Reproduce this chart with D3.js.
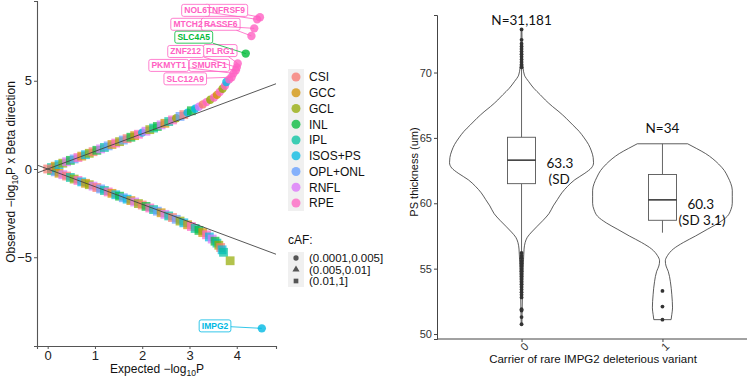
<!DOCTYPE html>
<html>
<head>
<meta charset="utf-8">
<script src="https://cdn.jsdelivr.net/npm/d3@7"></script>
<style>
  body { margin: 0; background: #fff; }
  svg { display: block; font-family: "Liberation Sans", Arial, sans-serif; }
</style>
</head>
<body>
<svg id="chart" width="750" height="378"></svg>
<script>
// ---- QQ panel data ----
const tissues = ["CSI", "GCC", "GCL", "INL", "IPL", "ISOS+PS", "OPL+ONL", "RNFL", "RPE"];
const tissueColors = ["#F8766D", "#D39200", "#93AA00", "#00BA38", "#00C19F", "#00B9E3", "#619CFF", "#DB72FB", "#FF61C3"];
const cafLevels = ["(0.0001,0.005]", "(0.005,0.01]", "(0.01,1]"];

// positive beta direction (tissue / shape given as index codes)
const upExpected = [0.00, 0.08, 0.16, 0.24, 0.32, 0.40, 0.48, 0.56, 0.64, 0.72,
  0.80, 0.88, 0.96, 1.04, 1.12, 1.20, 1.28, 1.36, 1.44, 1.52,
  1.60, 1.68, 1.76, 1.84, 1.92, 2.00, 2.08, 2.16, 2.24, 2.32,
  2.40, 2.48, 2.56, 2.64, 2.72, 2.80, 2.88, 2.96, 3.04, 3.12,
  3.20, 3.28, 3.36, 3.44, 3.52, 3.58, 3.64, 3.70, 3.75, 3.78, 3.84];
const upObserved = [0.00, 0.08, 0.16, 0.25, 0.33, 0.41, 0.49, 0.57, 0.65, 0.73,
  0.81, 0.89, 0.98, 1.06, 1.14, 1.22, 1.31, 1.39, 1.47, 1.55,
  1.64, 1.72, 1.80, 1.89, 1.97, 2.06, 2.14, 2.23, 2.32, 2.41,
  2.50, 2.59, 2.69, 2.78, 2.88, 2.98, 3.08, 3.19, 3.30, 3.41,
  3.53, 3.66, 3.79, 3.92, 4.05, 4.20, 4.36, 4.55, 4.72, 4.93, 5.08];
const upTissue = "0415273681" + "5203746182" + "6031857243" + "7148260535" + "7082818285" + "8";
const upShape  = "2222222222" + "2222222222" + "2222202222" + "2222022020" + "0000000000" + "0";

// negative beta direction
const downExpected = [0.08, 0.16, 0.24, 0.32, 0.40, 0.48, 0.56, 0.64, 0.72, 0.80,
  0.88, 0.96, 1.04, 1.12, 1.20, 1.28, 1.36, 1.44, 1.52, 1.60,
  1.68, 1.76, 1.84, 1.92, 2.00, 2.08, 2.16, 2.24, 2.32, 2.40,
  2.48, 2.56, 2.64, 2.72, 2.80, 2.88, 2.96, 3.04, 3.12, 3.20,
  3.28, 3.36, 3.42, 3.48, 3.54, 3.58, 3.62, 3.66, 3.69, 3.72, 3.86];
const downObserved = [-0.08, -0.16, -0.24, -0.32, -0.40, -0.48, -0.57, -0.65, -0.73, -0.81,
  -0.89, -0.97, -1.05, -1.13, -1.22, -1.30, -1.38, -1.46, -1.54, -1.63,
  -1.71, -1.79, -1.87, -1.96, -2.04, -2.12, -2.21, -2.30, -2.39, -2.48,
  -2.57, -2.66, -2.75, -2.85, -2.95, -3.05, -3.16, -3.26, -3.37, -3.48,
  -3.60, -3.73, -3.85, -3.97, -4.09, -4.20, -4.32, -4.45, -4.58, -4.72, -5.20];
const downTissue = "3617042851" + "2706481536" + "5172038461" + "7406251843" + "1857342054" + "2";
const downShape  = "2222222222" + "2222222222" + "2222222222" + "2222222222" + "2222222222" + "2";

// labelled genes
const geneNames    = ["TNFRSF9", "NOL6", "MTCH2", "RASSF6", "SLC4A5", "PLRG1", "ZNF212", "SMURF1", "PKMYT1", "SLC12A9", "IMPG2"];
const geneExpected = [4.49, 4.43, 4.37, 4.31, 4.19, 4.02, 4.00, 3.98, 3.93, 3.89, 4.53];
const geneObserved = [8.60, 8.48, 7.97, 7.54, 6.54, 5.98, 5.76, 5.59, 5.42, 5.20, -9.03];
const geneTissue   = ["RPE", "RPE", "RPE", "RPE", "INL", "RPE", "RPE", "RPE", "RPE", "RPE", "ISOS+PS"];
// where the repelled labels ended up (data units)
const labelX = [3.77, 3.13, 2.97, 3.66, 3.09, 3.65, 2.92, 3.42, 2.56, 2.91, 3.54];
const labelY = [8.99, 8.99, 8.20, 8.20, 7.47, 6.71, 6.66, 5.87, 5.87, 5.11, -8.89];

// ---- violin panel data ----
const carrierGroups = ["0", "1"];
const groupN = ["N=31,181", "N=34"];
const groupMeanText = [["63.3", "(SD"], ["60.3", "(SD 3.1)"]];

const violin0Value = [73.3, 72.0, 71.0, 70.4, 69.8, 69.3, 68.8, 68.3, 67.9, 67.4, 67.0, 66.5, 66.0, 65.5, 65.0, 64.5, 64.0, 63.5, 63.1,
  62.7, 62.3, 61.8, 61.3, 60.8, 60.3, 59.8, 59.2, 58.7, 58.2, 57.8, 57.4, 57.0, 56.5, 56.0, 55.0, 54.0, 53.0, 52.0, 50.8];
const violin0Dens = [0.005, 0.008, 0.012, 0.02, 0.04, 0.10, 0.17, 0.26, 0.33, 0.43, 0.52, 0.62, 0.71, 0.80, 0.87, 0.93, 0.97, 0.995, 1.0,
  0.97, 0.88, 0.74, 0.64, 0.56, 0.50, 0.44, 0.38, 0.30, 0.21, 0.14, 0.08, 0.05, 0.035, 0.03, 0.022, 0.017, 0.012, 0.009, 0.005];
const violin1Value = [64.55, 64.2, 63.8, 63.4, 63.0, 62.5, 62.0, 61.5, 61.0, 60.5, 60.0, 59.5, 59.0, 58.5, 58.0, 57.5, 57.0,
  56.5, 56.0, 55.6, 55.2, 54.8, 54.0, 53.0, 52.0, 51.5, 51.1];
const violin1Dens = [0.35, 0.47, 0.60, 0.70, 0.78, 0.86, 0.91, 0.95, 0.97, 0.97, 0.97, 0.95, 0.90, 0.78, 0.62, 0.46, 0.29,
  0.15, 0.07, 0.04, 0.05, 0.08, 0.11, 0.13, 0.14, 0.13, 0.12];

// box stats: [lower whisker, q1, median, q3, upper whisker]
const box0 = [56.3, 61.5, 63.3, 65.05, 70.3];
const box1 = [57.75, 58.7, 60.26, 62.2, 64.55];
const outliers0 = [70.4, 70.6, 70.8, 71.0, 71.2, 71.4, 71.6, 71.8, 72.0, 72.2, 72.5, 73.3,
  56.2, 56.0, 55.8, 55.6, 55.4, 55.2, 55.0, 54.8, 54.6, 54.4, 54.2, 54.0, 53.8, 53.6, 53.4, 53.2, 53.0, 52.8,
  51.9, 51.8, 51.3, 50.75];
const outliers1 = [53.3, 52.1, 51.1];

const yTicksR = [50, 55, 60, 65, 70];

// ================= drawing =================
const svg = d3.select("#chart");
const axisGrey = "#555";

// ---------- left: QQ plot ----------
const x = d3.scaleLinear().domain([-0.226, 4.83]).range([37, 276]);
const y = d3.scaleLinear().domain([-10.03, 9.52]).range([346, 1]);

const qq = svg.append("g");
svg.append("clipPath").attr("id", "qqclip")
  .append("rect").attr("x", 37).attr("y", 0).attr("width", 239).attr("height", 346);

function drawPoint(g, cx, cy, shape, color) {
  if (shape === 2) {
    g.append("rect").attr("x", cx - 4.4).attr("y", cy - 4.4).attr("width", 8.8).attr("height", 8.8)
      .attr("fill", color).attr("fill-opacity", 0.7);
  } else if (shape === 1) {
    g.append("path").attr("d", d3.symbol(d3.symbolTriangle, 50)()).attr("transform", `translate(${cx},${cy})`)
      .attr("fill", color).attr("fill-opacity", 0.75);
  } else {
    g.append("circle").attr("cx", cx).attr("cy", cy).attr("r", 4.2)
      .attr("fill", color).attr("fill-opacity", 0.8);
  }
}

const ptsG = qq.append("g").attr("clip-path", "url(#qqclip)");
for (let i = 0; i < downExpected.length; i++) {
  drawPoint(ptsG, x(downExpected[i]), y(downObserved[i]), +downShape[i], tissueColors[+downTissue[i]]);
}
for (let i = 1; i < upExpected.length; i++) {
  drawPoint(ptsG, x(upExpected[i]), y(upObserved[i]), +upShape[i], tissueColors[+upTissue[i]]);
}
geneNames.forEach((g, i) => {
  drawPoint(ptsG, x(geneExpected[i]), y(geneObserved[i]), 0, tissueColors[tissues.indexOf(geneTissue[i])]);
});
drawPoint(ptsG, x(upExpected[0]), y(upObserved[0]), +upShape[0], tissueColors[+upTissue[0]]);

// identity lines y = x and y = -x
const xd = x.domain();
[1, -1].forEach(s => {
  ptsG.append("line")
    .attr("x1", x(xd[0])).attr("y1", y(s * xd[0]))
    .attr("x2", x(xd[1])).attr("y2", y(s * xd[1]))
    .attr("stroke", "#444").attr("stroke-width", 0.9);
});

// gene labels (ggrepel-like)
const labG = qq.append("g");
geneNames.forEach((g, i) => {
  const col = tissueColors[tissues.indexOf(geneTissue[i])];
  const lx = x(labelX[i]), ly = y(labelY[i]);
  const t = labG.append("text").attr("x", lx).attr("y", ly + 3)
    .attr("text-anchor", "middle").attr("font-size", 8.5).attr("font-weight", "bold")
    .attr("fill", col).text(g);
  const bb = t.node().getBBox();
  const w = bb.width + 5, h = 12;
  labG.insert("rect", "text").attr("x", lx - w / 2).attr("y", ly - h / 2).attr("width", w).attr("height", h)
    .attr("rx", 2).attr("fill", "#fff").attr("stroke", col).attr("stroke-width", 0.8);
  const px = x(geneExpected[i]), py = y(geneObserved[i]);
  const dx = px - lx, dy = py - ly;
  const tEdge = Math.min(Math.abs((w / 2) / (dx || 1e-9)), Math.abs((h / 2) / (dy || 1e-9)));
  labG.append("line").attr("x1", lx + dx * tEdge).attr("y1", ly + dy * tEdge)
    .attr("x2", px).attr("y2", py).attr("stroke", col).attr("stroke-width", 0.8);
});

// axes
const xAxisL = d3.axisBottom(x).tickValues([0, 1, 2, 3, 4]).tickFormat(d3.format("d")).tickSize(3).tickPadding(2);
const yAxisL = d3.axisLeft(y).tickValues([-5, 0, 5]).tickFormat(d => d < 0 ? "\u2212" + Math.abs(d) : d).tickSize(3).tickPadding(2);
const gxL = svg.append("g").attr("transform", "translate(0,346)").call(xAxisL);
const gyL = svg.append("g").attr("transform", "translate(37,0)").call(yAxisL);
[gxL, gyL].forEach(g => {
  g.select(".domain").attr("stroke", axisGrey).attr("stroke-width", 1.1);
  g.selectAll(".tick line").attr("stroke", axisGrey);
  g.selectAll(".tick text").attr("font-size", 13).attr("fill", "#222").attr("font-family", "Liberation Sans, Arial, sans-serif");
});

// axis titles
const xtL = svg.append("text").attr("x", 157).attr("y", 373).attr("text-anchor", "middle")
  .attr("font-size", 12).attr("fill", "#111");
xtL.append("tspan").text("Expected \u2212log");
xtL.append("tspan").attr("font-size", 8.5).attr("dy", 3).text("10");
xtL.append("tspan").attr("dy", -3).text("P");

const ytL = svg.append("text").attr("transform", "translate(15,172) rotate(-90)").attr("text-anchor", "middle")
  .attr("font-size", 12).attr("fill", "#111");
ytL.append("tspan").text("Observed \u2212log");
ytL.append("tspan").attr("font-size", 8.5).attr("dy", 3).text("10");
ytL.append("tspan").attr("dy", -3).text("P x Beta direction");

// legends
const leg = svg.append("g");
leg.append("rect").attr("x", 288).attr("y", 69).attr("width", 16).attr("height", 142).attr("fill", "#f0f0f0");
tissues.forEach((t, i) => {
  const cy = 77 + i * 15.75;
  leg.append("circle").attr("cx", 296).attr("cy", cy).attr("r", 4.5).attr("fill", tissueColors[i]).attr("fill-opacity", 0.75);
  leg.append("text").attr("x", 309).attr("y", cy + 4.3).attr("font-size", 12).attr("fill", "#111").text(t);
});
leg.append("text").attr("x", 288).attr("y", 244).attr("font-size", 12).attr("fill", "#111").text("cAF:");
leg.append("rect").attr("x", 288).attr("y", 252).attr("width", 16).attr("height", 35).attr("fill", "#f0f0f0");
cafLevels.forEach((c, i) => {
  const cy = 258 + i * 11.5;
  const sym = [d3.symbolCircle, d3.symbolTriangle, d3.symbolSquare][i];
  leg.append("path").attr("d", d3.symbol(sym, 22)()).attr("transform", `translate(296,${cy})`).attr("fill", "#555");
  leg.append("text").attr("x", 309).attr("y", cy + 4).attr("font-size", 11.5).attr("fill", "#111").text(c);
});

// ---------- right: violin plot ----------
const xR = d3.scalePoint().domain(carrierGroups).range([437, 747]).padding(0.6);
const yR = d3.scaleLinear().domain([49.62, 74.4]).range([339, 15]);
const wR = d3.scaleLinear().domain([0, 1]).range([0, 72]);

const vg = svg.append("g");
const violins = [
  { g: "0", v: violin0Value, d: violin0Dens, box: box0, out: outliers0 },
  { g: "1", v: violin1Value, d: violin1Dens, box: box1, out: outliers1 }
];
violins.forEach(V => {
  const cx = xR(V.g);
  const pts = V.v.map((v, i) => [v, V.d[i]]);
  const area = d3.area().y(p => yR(p[0])).x0(p => cx - wR(p[1])).x1(p => cx + wR(p[1])).curve(d3.curveMonotoneY);
  vg.append("path").attr("d", area(pts.slice().sort((a, b) => a[0] - b[0])))
    .attr("fill", "#fff").attr("stroke", "#333").attr("stroke-width", 0.8);
  const bw = 28;
  vg.append("line").attr("x1", cx).attr("x2", cx).attr("y1", yR(V.box[0])).attr("y2", yR(V.box[1])).attr("stroke", "#555").attr("stroke-width", 0.9);
  vg.append("line").attr("x1", cx).attr("x2", cx).attr("y1", yR(V.box[3])).attr("y2", yR(V.box[4])).attr("stroke", "#555").attr("stroke-width", 0.9);
  vg.append("rect").attr("x", cx - bw / 2).attr("width", bw).attr("y", yR(V.box[3])).attr("height", yR(V.box[1]) - yR(V.box[3]))
    .attr("fill", "#fff").attr("stroke", "#555").attr("stroke-width", 0.9);
  vg.append("line").attr("x1", cx - bw / 2).attr("x2", cx + bw / 2).attr("y1", yR(V.box[2])).attr("y2", yR(V.box[2]))
    .attr("stroke", "#222").attr("stroke-width", 1.4);
  V.out.forEach(o => {
    vg.append("circle").attr("cx", cx).attr("cy", yR(o)).attr("r", 1.9).attr("fill", "#333");
  });
});

const xAxisR = d3.axisBottom(xR).tickSize(3).tickPadding(3);
const yAxisR = d3.axisLeft(yR).tickValues(yTicksR).tickSize(3).tickPadding(2);
const gxR = svg.append("g").attr("transform", "translate(0,339)").call(xAxisR);
const gyR = svg.append("g").attr("transform", "translate(437,0)").call(yAxisR);
gxR.select(".domain").attr("d", "M437,0H747");
[gxR, gyR].forEach(g => {
  g.select(".domain").attr("stroke", "#444").attr("stroke-width", 1);
  g.selectAll(".tick line").attr("stroke", "#444");
  g.selectAll(".tick text").attr("font-size", 11).attr("fill", "#333").attr("font-family", "Liberation Sans, Arial, sans-serif");
});
gxR.selectAll(".tick text").attr("text-anchor", "end").attr("dy", 0).attr("transform", "translate(3,4) rotate(-45)");

svg.append("text").attr("x", 593).attr("y", 363).attr("text-anchor", "middle").attr("font-size", 11.5)
  .attr("fill", "#111").text("Carrier of rare IMPG2 deleterious variant");
svg.append("text").attr("transform", "translate(418,172) rotate(-90)").attr("text-anchor", "middle").attr("font-size", 11)
  .attr("fill", "#111").text("PS thickness (um)");

// annotations
const annFont = "Lato, 'Open Sans', sans-serif";
carrierGroups.forEach((g, i) => {
  svg.append("text").attr("x", xR(g)).attr("y", [25, 133][i]).attr("text-anchor", "middle")
    .attr("font-family", annFont).attr("font-size", 13.5).attr("fill", "#111").text(groupN[i]);
});
svg.append("text").attr("x", xR("0") + 25).attr("y", 168).attr("font-family", annFont).attr("font-size", 13.5).attr("fill", "#111").text(groupMeanText[0][0]);
svg.append("text").attr("x", xR("0") + 27).attr("y", 184).attr("font-family", annFont).attr("font-size", 13.5).attr("fill", "#111").text(groupMeanText[0][1]);
svg.append("text").attr("x", xR("1") + 25).attr("y", 209).attr("font-family", annFont).attr("font-size", 13.5).attr("fill", "#111").text(groupMeanText[1][0]);
svg.append("text").attr("x", xR("1") + 16).attr("y", 225).attr("font-family", annFont).attr("font-size", 13.5).attr("fill", "#111").text(groupMeanText[1][1]);
</script>
</body>
</html>
